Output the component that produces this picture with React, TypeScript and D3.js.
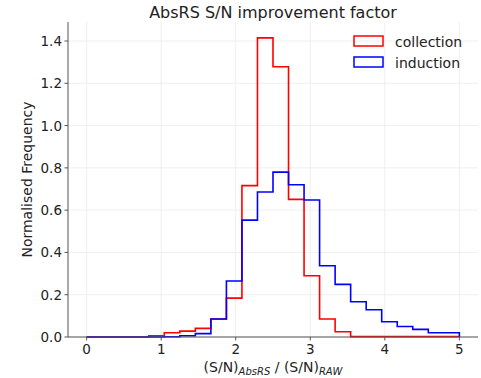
import React from "react";
import * as d3 from "d3";

const binEdgesStart = 0;
const binEdgesEnd = 5;
const binCount = 24;

const collectionValues = [
  0, 0, 0, 0, 0.006, 0.02, 0.028, 0.041, 0.085, 0.184, 0.716, 1.415,
  1.278, 0.651, 0.29, 0.085, 0.025, 0.002, 0.002, 0.002, 0.002, 0.002, 0.002, 0.002,
];
const inductionValues = [
  0, 0, 0, 0, 0, 0.001, 0.006, 0.016, 0.085, 0.265, 0.553, 0.686,
  0.78, 0.72, 0.648, 0.337, 0.249, 0.167, 0.129, 0.072, 0.05, 0.036, 0.02, 0.02,
];
const xTicks = [0, 1, 2, 3, 4, 5];
const yTicks = [0, 0.2, 0.4, 0.6, 0.8, 1.0, 1.2, 1.4];
const seriesNames = ["collection", "induction"];
const seriesColors = ["#ff0000", "#0000ff"];

const W = 481;
const H = 378;
const left = 68;
const right = 478;
const top = 22;
const bottom = 337;
const font = "DejaVu Sans, sans-serif";

export default function App() {
  const x = d3.scaleLinear().domain([-0.25, 5.25]).range([left, right]);
  const y = d3.scaleLinear().domain([0, 1.49]).range([bottom, top]);
  const edges = d3.range(binCount + 1).map(
    (i) => binEdgesStart + ((binEdgesEnd - binEdgesStart) * i) / binCount
  );

  const stepPath = (vals: number[]) => {
    const pts: [number, number][] = [[edges[0], 0]];
    vals.forEach((v, i) => {
      pts.push([edges[i], v]);
      pts.push([edges[i + 1], v]);
    });
    pts.push([edges[binCount], 0]);
    return d3.line<[number, number]>()
      .x((d) => x(d[0]))
      .y((d) => y(d[1]))(pts) as string;
  };

  const series = [collectionValues, inductionValues];

  return (
    <svg width={W} height={H} style={{ position: "absolute", left: 0, top: 0 }}>
      <rect x={0} y={0} width={W} height={H} fill="white" />
      {/* grid */}
      {xTicks.map((t) => (
        <line key={"gx" + t} x1={x(t)} x2={x(t)} y1={top} y2={bottom} stroke="#ebebeb" strokeWidth={0.8} />
      ))}
      {yTicks.map((t) => (
        <line key={"gy" + t} x1={left} x2={right} y1={y(t)} y2={y(t)} stroke="#ebebeb" strokeWidth={0.8} />
      ))}
      {/* series */}
      {series.map((vals, i) => (
        <path key={i} d={stepPath(vals)} fill="none" stroke={seriesColors[i]} strokeWidth={1.6} strokeLinejoin="miter" />
      ))}
      {/* spines */}
      <line x1={left} x2={left} y1={top} y2={bottom} stroke="#555" strokeWidth={1} />
      <line x1={left} x2={right} y1={bottom} y2={bottom} stroke="#555" strokeWidth={1} />
      {/* x ticks */}
      {xTicks.map((t) => (
        <g key={"xt" + t}>
          <line x1={x(t)} x2={x(t)} y1={bottom} y2={bottom + 3.5} stroke="#555" />
          <text x={x(t)} y={bottom + 17} textAnchor="middle" fontFamily={font} fontSize={13.5} fill="#222">
            {t}
          </text>
        </g>
      ))}
      {yTicks.map((t) => (
        <g key={"yt" + t}>
          <line x1={left - 3.5} x2={left} y1={y(t)} y2={y(t)} stroke="#555" />
          <text x={left - 6} y={y(t) + 5} textAnchor="end" fontFamily={font} fontSize={13.5} fill="#222">
            {t.toFixed(1)}
          </text>
        </g>
      ))}
      {/* title */}
      <text x={(left + right) / 2} y={18} textAnchor="middle" fontFamily={font} fontSize={16} fill="#222">
        AbsRS S/N improvement factor
      </text>
      {/* y label */}
      <text
        transform={`translate(32, ${(top + bottom) / 2}) rotate(-90)`}
        textAnchor="middle"
        fontFamily={font}
        fontSize={14}
        fill="#222"
      >
        Normalised Frequency
      </text>
      {/* x label */}
      <text x={(left + right) / 2} y={372} textAnchor="middle" fontFamily={font} fontSize={14} fill="#222">
        (S/N)
        <tspan fontStyle="italic" fontSize={10} dy={3}>AbsRS</tspan>
        <tspan dy={-3}> / (S/N)</tspan>
        <tspan fontStyle="italic" fontSize={10} dy={3}>RAW</tspan>
      </text>
      {/* legend */}
      {seriesNames.map((name, i) => (
        <g key={name}>
          <rect x={354} y={36 + i * 21} width={29} height={10} fill="none" stroke={seriesColors[i]} strokeWidth={1.5} />
          <text x={395} y={46.5 + i * 21} fontFamily={font} fontSize={14} fill="#222">
            {name}
          </text>
        </g>
      ))}
    </svg>
  );
}
